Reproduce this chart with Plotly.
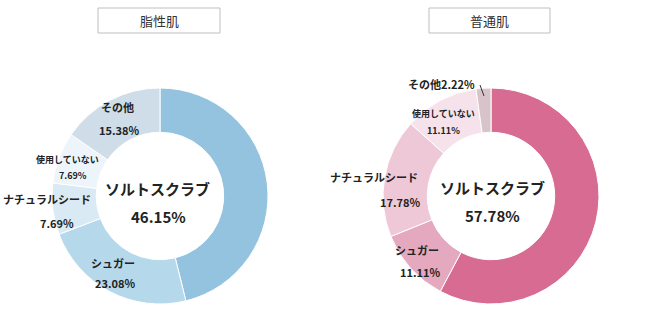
import plotly.graph_objects as go

W, H = 650, 327

categories = ["ソルトスクラブ", "シュガー", "ナチュラルシード", "使用していない", "その他"]
oily_values = [46.15, 23.08, 7.69, 7.69, 15.38]
normal_values = [57.78, 11.11, 17.78, 11.11, 2.22]
panel_titles = ["脂性肌", "普通肌"]

oily_colors = ["#93C3DF", "#B5D8EB", "#D9EAF4", "#EEF5FA", "#CEDDE7"]
normal_colors = ["#D86B91", "#E4A8BF", "#EEC8D7", "#F6E2EA", "#D8C3CB"]

def px2x(x):
    return x / W

def px2y(y):
    return 1 - y / H

fig = go.Figure()

pies = [
    dict(values=oily_values, colors=oily_colors, x0=52, x1=268),
    dict(values=normal_values, colors=normal_colors, x0=383, x1=599),
]
top, bottom = 88, 304
for p in pies:
    fig.add_trace(go.Pie(
        labels=categories, values=p["values"],
        marker=dict(colors=p["colors"], line=dict(color="white", width=1)),
        hole=0.59, sort=False, direction="clockwise", rotation=0,
        textinfo="none", hoverinfo="label+percent", showlegend=False,
        domain=dict(x=[px2x(p["x0"]), px2x(p["x1"])], y=[px2y(bottom), px2y(top)]),
    ))

FONT = "Noto Sans CJK JP"
TXT = "#222222"

def ann(text, x, y, size, bold=True):
    t = f"<b>{text}</b>" if bold else text
    fig.add_annotation(x=px2x(x), y=px2y(y), xref="paper", yref="paper",
                       text=t, showarrow=False,
                       font=dict(family=FONT, size=size, color=TXT),
                       xanchor="center", yanchor="middle")

def pct(v):
    return f"{v:.2f}%"

# Oily panel labels
ov = oily_values
ann(categories[0], 157, 188, 15)
ann(pct(ov[0]), 158, 216, 15)
ann(categories[1], 113, 263, 11)
ann(pct(ov[1]), 115, 283, 11)
ann(categories[2], 47, 199, 11)
ann(pct(ov[2]), 57, 223, 11)
ann(categories[3], 67, 159, 9)
ann(pct(ov[3]), 73, 176, 9)
ann(categories[4], 117, 107, 11)
ann(pct(ov[4]), 119, 130, 11)

# Normal panel labels
nv = normal_values
ann(categories[0], 492, 187, 15)
ann(pct(nv[0]), 492, 215, 15)
ann(categories[1], 417, 250, 11)
ann(pct(nv[1]), 420, 272, 11)
ann(categories[2], 374, 177, 11)
ann(pct(nv[2]), 400, 202, 11)
ann(categories[3], 444, 113, 9)
ann(pct(nv[3]), 443, 130, 9)
ann(categories[4] + pct(nv[4]), 441, 84, 11)

# leader line for small slice
fig.add_shape(type="line", xref="paper", yref="paper",
              x0=px2x(480), y0=px2y(85), x1=px2x(484), y1=px2y(96),
              line=dict(color="#333333", width=1))

# Title boxes
for title, (bx0, bx1) in zip(panel_titles, [(98, 220), (429, 550)]):
    fig.add_shape(type="rect", xref="paper", yref="paper",
                  x0=px2x(bx0), x1=px2x(bx1), y0=px2y(33), y1=px2y(8),
                  line=dict(color="#BFBFBF", width=1), fillcolor="white")
    fig.add_annotation(x=px2x((bx0 + bx1) / 2), y=px2y(20.5), xref="paper", yref="paper",
                       text=title, showarrow=False,
                       font=dict(family=FONT, size=13, color="#333333"),
                       xanchor="center", yanchor="middle")

fig.update_layout(
    width=W, height=H,
    margin=dict(l=0, r=0, t=0, b=0),
    paper_bgcolor="white", plot_bgcolor="white",
)

fig.write_html("out.html")
